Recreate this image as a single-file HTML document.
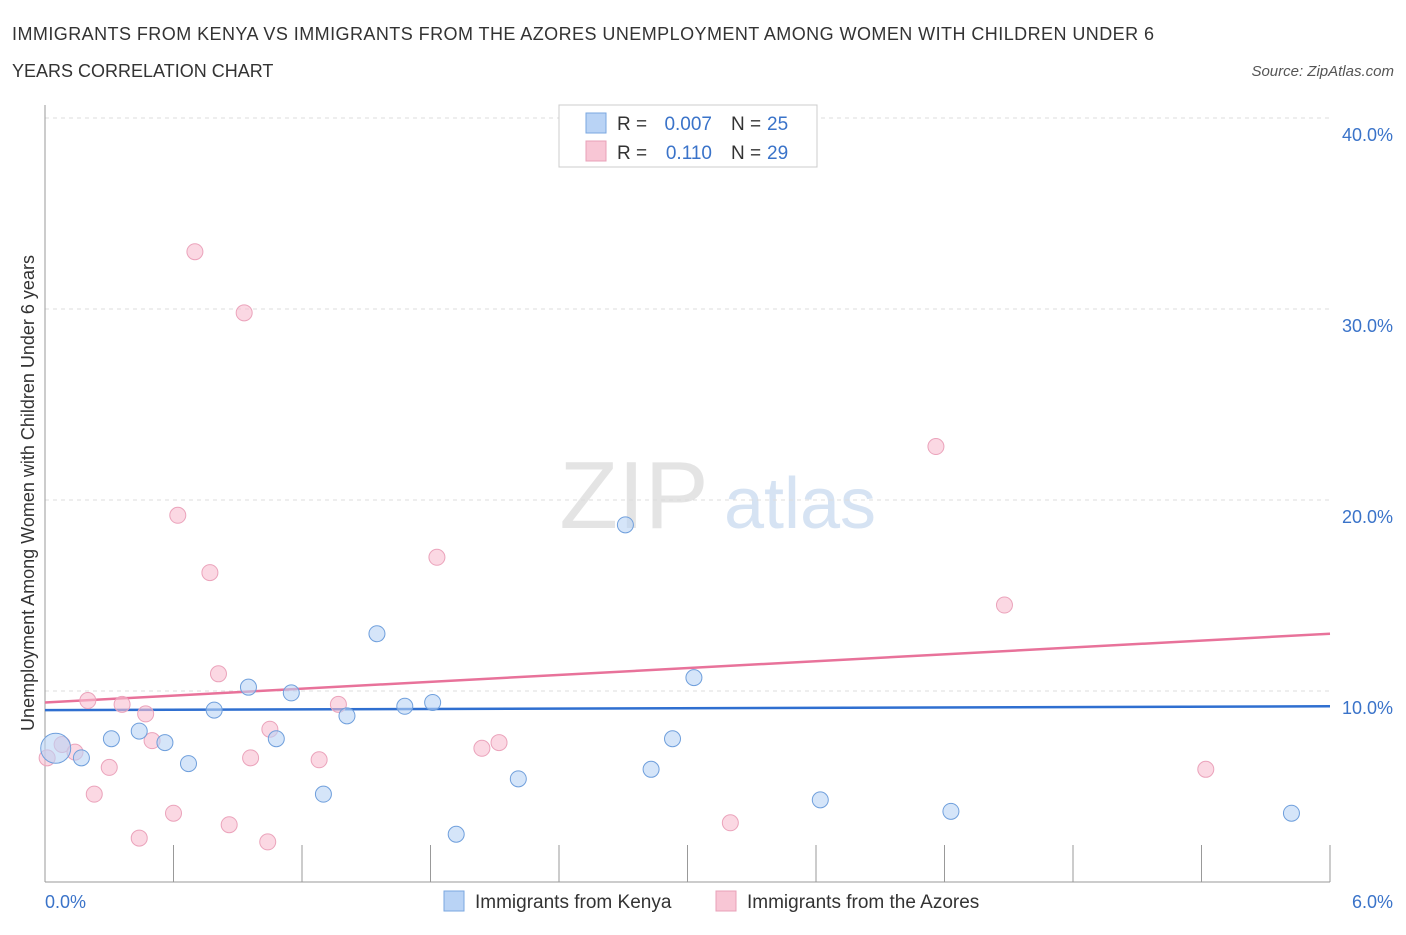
<!DOCTYPE html>
<html><head><meta charset="utf-8"><style>
body{margin:0;background:#fff;font-family:"Liberation Sans",sans-serif;}
svg text{font-family:"Liberation Sans",sans-serif;}
</style></head><body>
<svg id="chart" width="1406" height="930">
<text x="12" y="40" font-size="18" fill="#333" textLength="1142">IMMIGRANTS FROM KENYA VS IMMIGRANTS FROM THE AZORES UNEMPLOYMENT AMONG WOMEN WITH CHILDREN UNDER 6</text>
<text x="12" y="77" font-size="18" fill="#333">YEARS CORRELATION CHART</text>
<text x="1394" y="76" font-size="15" fill="#555" font-style="italic" text-anchor="end">Source: ZipAtlas.com</text>
<text x="634" y="528" font-size="96" fill="#e4e4e4" font-family="Liberation Serif" text-anchor="middle">ZIP</text>
<text x="800" y="528" font-size="72" fill="#d6e3f3" text-anchor="middle">atlas</text>
<g id="grid"></g><g id="axes"></g><g id="trends"></g><g id="points"></g>
<text transform="translate(34,493) rotate(-90)" font-size="18" fill="#333" text-anchor="middle">Unemployment Among Women with Children Under 6 years</text>
<g>
<rect x="559" y="105" width="258" height="62" fill="#fff" stroke="#ccc"/>
<rect x="586" y="113" width="20" height="20" fill="#b9d3f5" stroke="#7aa7e0"/>
<text x="617" y="130" font-size="19" fill="#333">R =</text>
<text x="712" y="130" font-size="19" fill="#3a73c9" text-anchor="end">0.007</text>
<text x="731" y="130" font-size="19" fill="#333">N =</text>
<text x="767" y="130" font-size="19" fill="#3a73c9">25</text>
<rect x="586" y="141" width="20" height="20" fill="#f8c6d5" stroke="#e8a0b8"/>
<text x="617" y="159" font-size="19" fill="#333">R =</text>
<text x="712" y="159" font-size="19" fill="#3a73c9" text-anchor="end">0.110</text>
<text x="731" y="159" font-size="19" fill="#333">N =</text>
<text x="767" y="159" font-size="19" fill="#3a73c9">29</text>
</g>
<g>
<rect x="444" y="891" width="20" height="20" fill="#b9d3f5" stroke="#7aa7e0"/>
<text x="475" y="908" font-size="19" fill="#333">Immigrants from Kenya</text>
<rect x="716" y="891" width="20" height="20" fill="#f8c6d5" stroke="#e8a0b8"/>
<text x="747" y="908" font-size="19" fill="#333">Immigrants from the Azores</text>
</g>
</svg>
<script>
const kenyaX=[0.05,0.17,0.31,0.44,0.56,0.67,0.79,0.95,1.08,1.15,1.30,1.41,1.55,1.68,1.81,1.92,2.21,2.60,2.71,2.83,2.93,3.03,3.62,4.23,5.82];
const kenyaY=[7.0,6.5,7.5,7.9,7.3,6.2,9.0,10.2,7.5,9.9,4.6,8.7,13.0,9.2,9.4,2.5,5.4,39.2,18.7,5.9,7.5,10.7,4.3,3.7,3.6];
const azoresX=[0.01,0.08,0.14,0.20,0.23,0.30,0.36,0.44,0.47,0.50,0.60,0.62,0.70,0.77,0.81,0.86,0.93,0.96,1.04,1.05,1.28,1.37,1.83,2.04,2.12,3.20,4.16,4.48,5.42];
const azoresY=[6.5,7.2,6.8,9.5,4.6,6.0,9.3,2.3,8.8,7.4,3.6,19.2,33.0,16.2,10.9,3.0,29.8,6.5,2.1,8.0,6.4,9.3,17.0,7.0,7.3,3.1,22.8,14.5,5.9];
const kenyaTrend=[9.0,9.2];
const azoresTrend=[9.4,13.0];
const yTicks=[10,20,30,40];
const yTickLabels=["10.0%","20.0%","30.0%","40.0%"];
const xTickLabels=["0.0%","6.0%"];
const NS="http://www.w3.org/2000/svg";
const sx=v=>45+v/6*1285, sy=v=>882-v*19.1;
function mk(p,tag,a){const e=document.createElementNS(NS,tag);for(const k in a)e.setAttribute(k,a[k]);document.getElementById(p).appendChild(e);return e;}
yTicks.forEach((t,i)=>{
 const g=mk('grid','line',{x1:45,x2:1330,y1:sy(t),y2:sy(t),stroke:'#ddd','stroke-dasharray':'4,4'});
 
 
 const l=mk('grid','text',{x:1393,y:sy(t)+23,'font-size':18,fill:'#3a73c9','text-anchor':'end'});
 l.textContent=yTickLabels[i];
 
 
});
const topGrid=mk('grid','line',{x1:45,x2:1330,y1:118,y2:118,stroke:'#ddd','stroke-dasharray':'4,4'});


const yAx=mk('axes','line',{x1:45,x2:45,y1:105,y2:882,stroke:'#999'});


const xAx=mk('axes','line',{x1:45,x2:1330,y1:882,y2:882,stroke:'#999'});


for(let i=0;i<=10;i++){const t=mk('axes','line',{x1:sx(i*0.6),x2:sx(i*0.6),y1:845,y2:882,stroke:'#999'});
 
 }
const xl0=mk('axes','text',{x:45,y:908,'font-size':18,fill:'#3a73c9'});xl0.textContent=xTickLabels[0];


const xl1=mk('axes','text',{x:1393,y:908,'font-size':18,fill:'#3a73c9','text-anchor':'end'});xl1.textContent=xTickLabels[1];


const tb=mk('trends','line',{x1:sx(0),x2:sx(6),y1:sy(kenyaTrend[0]),y2:sy(kenyaTrend[1]),stroke:'#2f6fd0','stroke-width':2.5});


const tp=mk('trends','line',{x1:sx(0),x2:sx(6),y1:sy(azoresTrend[0]),y2:sy(azoresTrend[1]),stroke:'#e8729a','stroke-width':2.5});


azoresX.forEach((x,i)=>{const c=mk('points','circle',{cx:sx(x),cy:sy(azoresY[i]),r:8,fill:'rgba(248,190,208,0.6)',stroke:'#eba3bb'});
 
 });
kenyaX.forEach((x,i)=>{const c=mk('points','circle',{cx:sx(x),cy:sy(kenyaY[i]),r:i==0?15:8,fill:'rgba(185,211,245,0.6)',stroke:'#6f9fdc'});
 
 });
</script>
</body></html>
